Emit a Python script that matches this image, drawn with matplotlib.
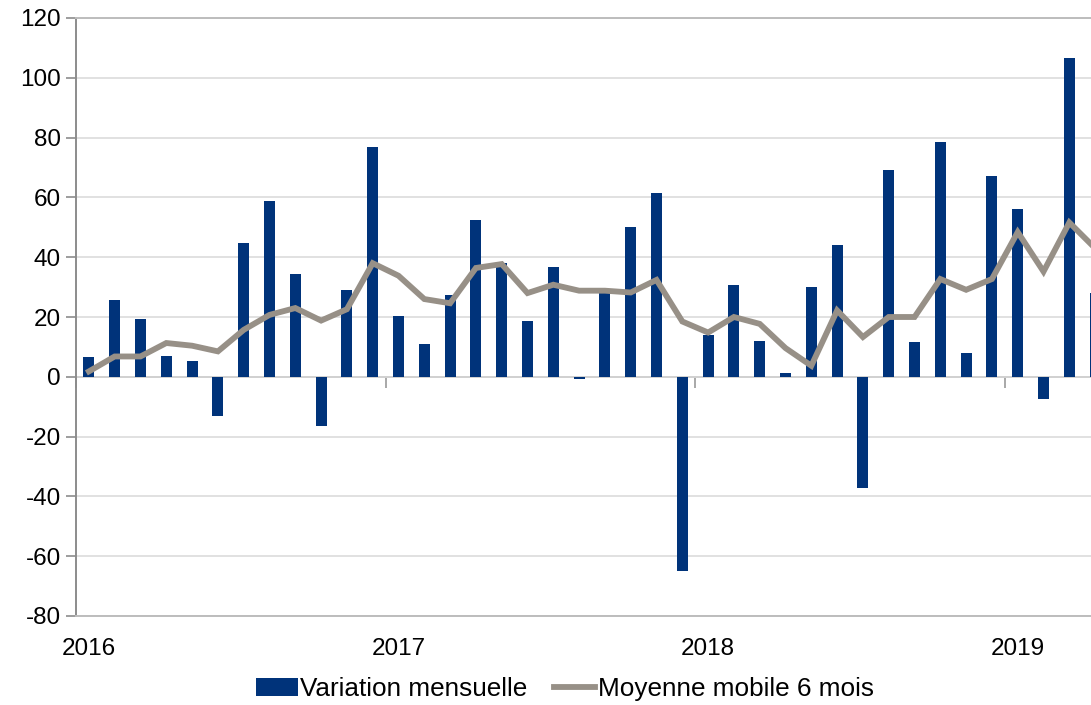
import matplotlib
matplotlib.use("Agg")
import matplotlib.pyplot as plt
import numpy as np

plt.rcParams['font.family'] = ['Liberation Sans', 'DejaVu Sans']
plt.rcParams['axes.unicode_minus'] = False

# Data: monthly values, Jan 2016 - Apr 2019
years = ['2016', '2017', '2018', '2019']
variation = [6.5, 25.7, 19.3, 6.8, 5.3, -13.0, 44.6, 58.8, 34.3, -16.6, 29.1, 76.8,
             20.2, 11.0, 27.4, 52.3, 38.0, 18.7, 36.7, -0.8, 28.0, 50.2, 61.6, -64.8,
             14.0, 30.7, 12.0, 1.2, 30.0, 44.1, -37.2, 69.0, 11.8, 78.5, 7.9, 67.2,
             56.1, -7.4, 106.7, 28.0]
moyenne = [1.8, 6.8, 6.8, 11.3, 10.4, 8.5, 15.7, 20.7, 23.0, 18.8, 22.6, 38.0,
           33.8, 26.0, 24.6, 36.4, 37.7, 28.0, 30.8, 28.8, 28.8, 28.2, 32.4, 18.5,
           14.8, 20.0, 17.7, 9.6, 3.7, 22.2, 13.3, 20.0, 20.0, 32.7, 29.1, 32.7,
           48.4, 35.2, 51.6, 43.0]

bar_color = '#00337a'
line_color = '#979087'

fig = plt.figure(figsize=(10.91, 7.05), dpi=100)
ax = fig.add_axes([76 / 1091, 89 / 705, 1 - 76 / 1091, (616 - 18) / 705])

x = np.arange(len(variation))
bars = ax.bar(x, variation, width=0.43, color=bar_color, label='Variation mensuelle', zorder=2)
line, = ax.plot(x, moyenne, color=line_color, lw=4.2, solid_joinstyle='miter',
                label='Moyenne mobile 6 mois', zorder=3)

ax.set_ylim(-80, 120)
ax.set_yticks(range(-80, 121, 20))
ax.set_xlim(-0.5, 38.84)
ax.yaxis.grid(True, color='#dcdcdc', lw=1.2, zorder=0)
ax.set_axisbelow(True)

for s in ['top', 'bottom']:
    ax.spines[s].set_color('#bdbdbd')
    ax.spines[s].set_linewidth(1.4)
ax.spines['right'].set_visible(False)
ax.spines['left'].set_color('#8c8c8c')
ax.spines['left'].set_linewidth(1.4)
ax.tick_params(axis='y', length=7, width=1.2, color='#8c8c8c', labelsize=17.5, pad=4)

# year labels under the January bars
ax.set_xticks(np.arange(0, len(variation), 12))
ax.set_xticklabels(years)
ax.tick_params(axis='x', length=0, labelsize=17.5, pad=16)

# category axis on the zero line, ticks between years
zero_ax = ax.secondary_xaxis(80 / 200)
zero_ax.set_xticks(np.arange(-0.5, len(variation), 12))
zero_ax.set_xticklabels([])
zero_ax.tick_params(axis='x', direction='out', length=8, width=1.2, color='#9a9a9a')
zero_ax.spines['bottom'].set_color('#9a9a9a')
zero_ax.spines['bottom'].set_linewidth(1.4)

fig.legend([bars, line], ['Variation mensuelle', 'Moyenne mobile 6 mois'],
           loc='center', bbox_to_anchor=(565 / 1091, 16 / 705), ncol=2, frameon=False,
           fontsize=18.8, handlelength=1.6, handleheight=0.7, handletextpad=0.08,
           columnspacing=1.0)

fig.savefig('out.png', dpi=100)
